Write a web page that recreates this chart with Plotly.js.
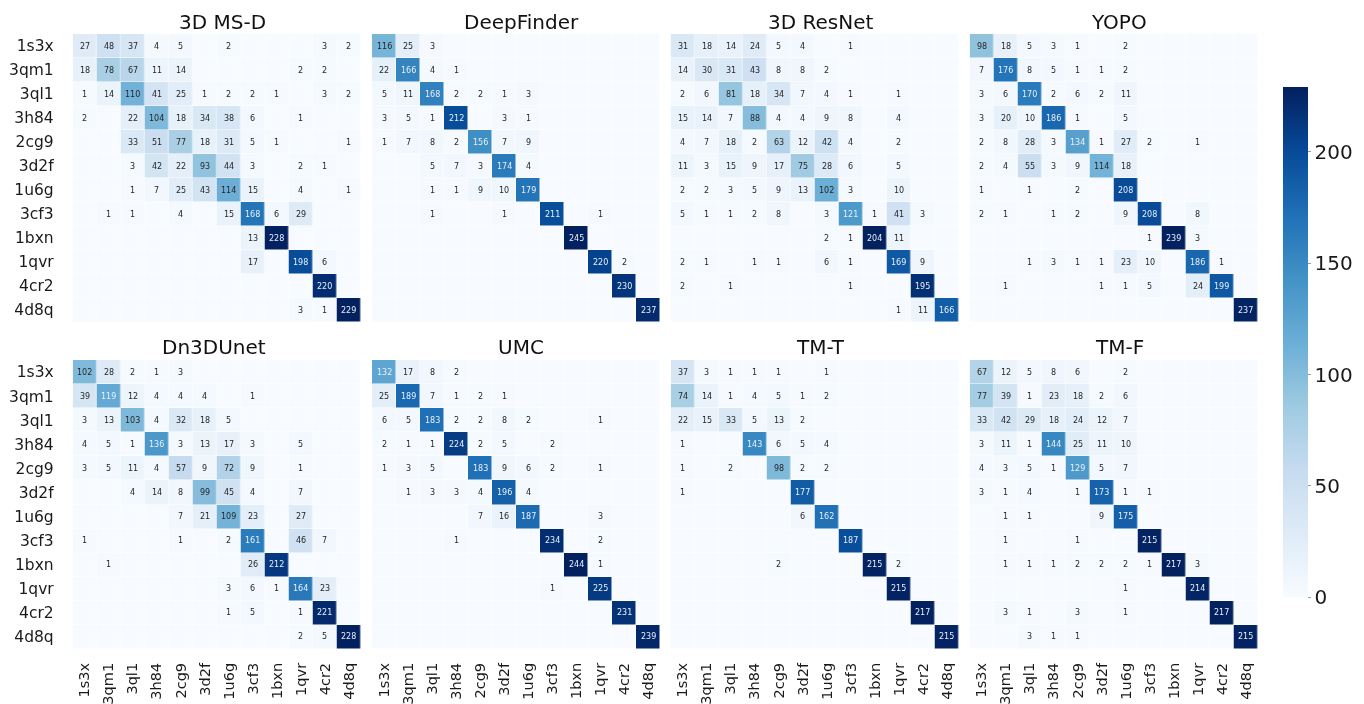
<!DOCTYPE html>
<html>
<head>
<meta charset="utf-8">
<script src="https://cdn.plot.ly/plotly-3.0.1.min.js"></script>
<style>html,body{margin:0;padding:0;background:#fff;overflow:hidden}#c{width:1364px;height:704px;filter:blur(0.5px)}</style>
</head>
<body>
<div id="c"></div>
<script>
const classes = ['1s3x','3qm1','3ql1','3h84','2cg9','3d2f','1u6g','3cf3','1bxn','1qvr','4cr2','4d8q'];

const msd = [
 [27,48,37,4,5,0,2,0,0,0,3,2],
 [18,78,67,11,14,0,0,0,0,2,2,0],
 [1,14,110,41,25,1,2,2,1,0,3,2],
 [2,0,22,104,18,34,38,6,0,1,0,0],
 [0,0,33,51,77,18,31,5,1,0,0,1],
 [0,0,3,42,22,93,44,3,0,2,1,0],
 [0,0,1,7,25,43,114,15,0,4,0,1],
 [0,1,1,0,4,0,15,168,6,29,0,0],
 [0,0,0,0,0,0,0,13,228,0,0,0],
 [0,0,0,0,0,0,0,17,0,198,6,0],
 [0,0,0,0,0,0,0,0,0,0,220,0],
 [0,0,0,0,0,0,0,0,0,3,1,229]];
const deepFinder = [
 [116,25,3,0,0,0,0,0,0,0,0,0],
 [22,166,4,1,0,0,0,0,0,0,0,0],
 [5,11,168,2,2,1,3,0,0,0,0,0],
 [3,5,1,212,0,3,1,0,0,0,0,0],
 [1,7,8,2,156,7,9,0,0,0,0,0],
 [0,0,5,7,3,174,4,0,0,0,0,0],
 [0,0,1,1,9,10,179,0,0,0,0,0],
 [0,0,1,0,0,1,0,211,0,1,0,0],
 [0,0,0,0,0,0,0,0,245,0,0,0],
 [0,0,0,0,0,0,0,0,0,220,2,0],
 [0,0,0,0,0,0,0,0,0,0,230,0],
 [0,0,0,0,0,0,0,0,0,0,0,237]];
const resNet = [
 [31,18,14,24,5,4,0,1,0,0,0,0],
 [14,30,31,43,8,8,2,0,0,0,0,0],
 [2,6,81,18,34,7,4,1,0,1,0,0],
 [15,14,7,88,4,4,9,8,0,4,0,0],
 [4,7,18,2,63,12,42,4,0,2,0,0],
 [11,3,15,9,17,75,28,6,0,5,0,0],
 [2,2,3,5,9,13,102,3,0,10,0,0],
 [5,1,1,2,8,0,3,121,1,41,3,0],
 [0,0,0,0,0,0,2,1,204,11,0,0],
 [2,1,0,1,1,0,6,1,0,169,9,0],
 [2,0,1,0,0,0,0,1,0,0,195,0],
 [0,0,0,0,0,0,0,0,0,1,11,166]];
const yopo = [
 [98,18,5,3,1,0,2,0,0,0,0,0],
 [7,176,8,5,1,1,2,0,0,0,0,0],
 [3,6,170,2,6,2,11,0,0,0,0,0],
 [3,20,10,186,1,0,5,0,0,0,0,0],
 [2,8,28,3,134,1,27,2,0,1,0,0],
 [2,4,55,3,9,114,18,0,0,0,0,0],
 [1,0,1,0,2,0,208,0,0,0,0,0],
 [2,1,0,1,2,0,9,208,0,8,0,0],
 [0,0,0,0,0,0,0,1,239,3,0,0],
 [0,0,1,3,1,1,23,10,0,186,1,0],
 [0,1,0,0,0,1,1,5,0,24,199,0],
 [0,0,0,0,0,0,0,0,0,0,0,237]];
const dn3dUnet = [
 [102,28,2,1,3,0,0,0,0,0,0,0],
 [39,119,12,4,4,4,0,1,0,0,0,0],
 [3,13,103,4,32,18,5,0,0,0,0,0],
 [4,5,1,136,3,13,17,3,0,5,0,0],
 [3,5,11,4,57,9,72,9,0,1,0,0],
 [0,0,4,14,8,99,45,4,0,7,0,0],
 [0,0,0,0,7,21,109,23,0,27,0,0],
 [1,0,0,0,1,0,2,161,0,46,7,0],
 [0,1,0,0,0,0,0,26,212,0,0,0],
 [0,0,0,0,0,0,3,6,1,164,23,0],
 [0,0,0,0,0,0,1,5,0,1,221,0],
 [0,0,0,0,0,0,0,0,0,2,5,228]];
const umc = [
 [132,17,8,2,0,0,0,0,0,0,0,0],
 [25,189,7,1,2,1,0,0,0,0,0,0],
 [6,5,183,2,2,8,2,0,0,1,0,0],
 [2,1,1,224,2,5,0,2,0,0,0,0],
 [1,3,5,0,183,9,6,2,0,1,0,0],
 [0,1,3,3,4,196,4,0,0,0,0,0],
 [0,0,0,0,7,16,187,0,0,3,0,0],
 [0,0,0,1,0,0,0,234,0,2,0,0],
 [0,0,0,0,0,0,0,0,244,1,0,0],
 [0,0,0,0,0,0,0,1,0,225,0,0],
 [0,0,0,0,0,0,0,0,0,0,231,0],
 [0,0,0,0,0,0,0,0,0,0,0,239]];
const tmT = [
 [37,3,1,1,1,0,1,0,0,0,0,0],
 [74,14,1,4,5,1,2,0,0,0,0,0],
 [22,15,33,5,13,2,0,0,0,0,0,0],
 [1,0,0,143,6,5,4,0,0,0,0,0],
 [1,0,2,0,98,2,2,0,0,0,0,0],
 [1,0,0,0,0,177,0,0,0,0,0,0],
 [0,0,0,0,0,6,162,0,0,0,0,0],
 [0,0,0,0,0,0,0,187,0,0,0,0],
 [0,0,0,0,2,0,0,0,215,2,0,0],
 [0,0,0,0,0,0,0,0,0,215,0,0],
 [0,0,0,0,0,0,0,0,0,0,217,0],
 [0,0,0,0,0,0,0,0,0,0,0,215]];
const tmF = [
 [67,12,5,8,6,0,2,0,0,0,0,0],
 [77,39,1,23,18,2,6,0,0,0,0,0],
 [33,42,29,18,24,12,7,0,0,0,0,0],
 [3,11,1,144,25,11,10,0,0,0,0,0],
 [4,3,5,1,129,5,7,0,0,0,0,0],
 [3,1,4,0,1,173,1,1,0,0,0,0],
 [0,1,1,0,0,9,175,0,0,0,0,0],
 [0,1,0,0,1,0,0,215,0,0,0,0],
 [0,1,1,1,2,2,2,1,217,3,0,0],
 [0,0,0,0,0,0,1,0,0,214,0,0],
 [0,3,1,0,3,0,1,0,0,0,217,0],
 [0,0,3,1,1,0,0,0,0,0,0,215]];

const panelNames = ['3D MS-D','DeepFinder','3D ResNet','YOPO','Dn3DUnet','UMC','TM-T','TM-F'];
const panelData = [msd,deepFinder,resNet,yopo,dn3dUnet,umc,tmT,tmF];

// Page geometry, in pixels of the 1364x704 figure
const W = 1364, H = 704;
const colLeft = [72.7,372,670.7,969.7], colRight = [361,660,959,1258];
const rowTop = [34,360], rowBottom = [322,649];
const titleX = [222,521,820,1119], titleX2 = [214,521,820,1119];
const titleY = [22,347];

const blues = [[0,'#f7fbff'],[0.125,'#deebf7'],[0.25,'#c6dbef'],[0.375,'#9ecae1'],[0.5,'#6baed6'],
               [0.625,'#4292c6'],[0.75,'#1f70b6'],[0.875,'#064a98'],[1,'#03205f']];
const FONT = 'DejaVu Sans, sans-serif';

const traces = [], annotations = [];
const layout = {
  width: W, height: H, margin: {l:0,r:0,t:0,b:0}, autosize: false,
  paper_bgcolor: '#fff', plot_bgcolor: '#fff',
  font: {family: FONT, color: '#1a1a1a'}, showlegend: false, annotations
};

panelData.forEach((m, i) => {
  const col = i % 4, row = Math.floor(i / 4), id = i + 1;
  const xk = id === 1 ? 'xaxis' : 'xaxis' + id, yk = id === 1 ? 'yaxis' : 'yaxis' + id;
  const xr = id === 1 ? 'x' : 'x' + id, yr = id === 1 ? 'y' : 'y' + id;
  const zmax = Math.max(...m.flat());
  const t = {
    type: 'heatmap', x: classes, y: classes, z: m, xaxis: xr, yaxis: yr,
    zmin: 0, zmax, colorscale: blues, xgap: 0.5, ygap: 0.5, hoverinfo: 'skip',
    showscale: i === 0
  };
  if (i === 0) {
    t.colorbar = {
      x: 1282.5 / W, xanchor: 'left', xpad: 0, y: 1 - 342.3 / H, yanchor: 'middle', ypad: 0,
      thickness: 24.5, thicknessmode: 'pixels', len: 509.5, lenmode: 'pixels',
      outlinewidth: 0, borderwidth: 0, tick0: 0, dtick: 50,
      ticks: 'outside', ticklen: 3, tickwidth: 1, tickcolor: '#999',
      tickfont: {family: FONT, size: 20, color: '#1a1a1a'}
    };
  }
  traces.push(t);
  layout[xk] = {
    domain: [colLeft[col] / W, colRight[col] / W], anchor: yr, type: 'category',
    categoryorder: 'array', categoryarray: classes, range: [-0.5, 11.5], fixedrange: true,
    showgrid: false, zeroline: false, showline: false, ticks: '', tickangle: -90,
    showticklabels: row === 1, ticklabelstandoff: 10,
    tickfont: {family: FONT, size: 14.5, color: '#1a1a1a'}, automargin: false
  };
  layout[yk] = {
    domain: [1 - rowBottom[row] / H, 1 - rowTop[row] / H], anchor: xr, type: 'category',
    categoryorder: 'array', categoryarray: classes, range: [11.5, -0.5], fixedrange: true,
    showgrid: false, zeroline: false, showline: false, ticks: '',
    showticklabels: col === 0, ticklabelstandoff: 18,
    tickfont: {family: FONT, size: 15.5, color: '#1a1a1a'}, automargin: false
  };
  annotations.push({
    xref: 'paper', yref: 'paper', xanchor: 'center', yanchor: 'middle', showarrow: false,
    x: (row === 0 ? titleX[col] : titleX2[col]) / W, y: 1 - titleY[row] / H,
    text: panelNames[i], font: {family: FONT, size: 20, color: '#111'}
  });
  m.forEach((r, ri) => r.forEach((v, ci) => {
    if (!v) return;
    annotations.push({
      xref: xr, yref: yr, x: classes[ci], y: classes[ri], text: String(v), showarrow: false,
      font: {family: FONT, size: 8, color: v / zmax > 0.505 ? '#e8f0f8' : '#262626'}
    });
  }));
});

Plotly.newPlot('c', traces, layout, {displayModeBar: false, staticPlot: true});
</script>
</body>
</html>
